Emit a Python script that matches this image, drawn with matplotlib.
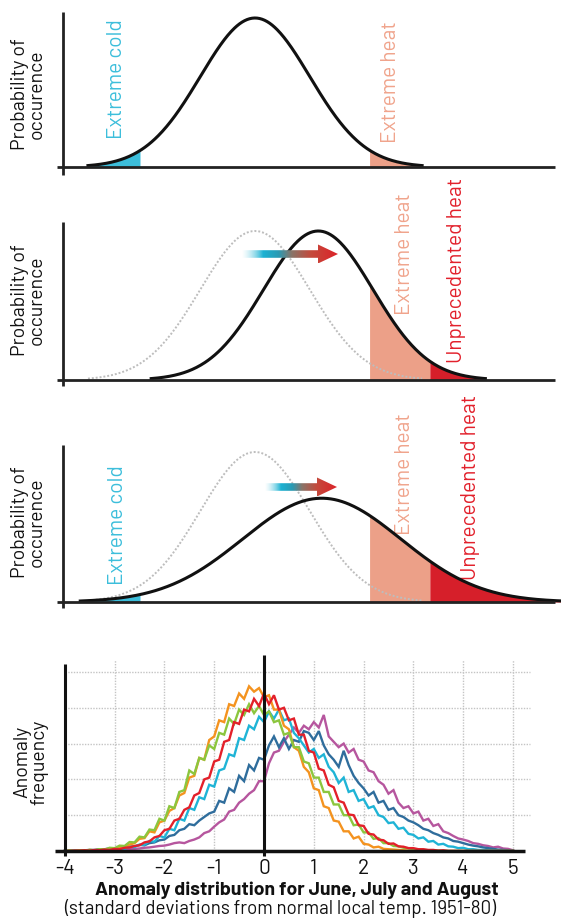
import numpy as np
import matplotlib
matplotlib.use("Agg")
import matplotlib.pyplot as plt
from matplotlib.patches import Polygon
from matplotlib.colors import LinearSegmentedColormap

plt.rcParams['font.family'] = ['Barlow', 'DejaVu Sans']

# ---------------- bottom panel data ----------------
x_start, x_step = -4.0, 0.1   # anomaly (std devs), one value per 0.1

orange = [0.00, 0.01, 0.00, 0.02, 0.01, 0.03, 0.02, 0.04, 0.03, 0.06,
          0.05, 0.10, 0.12, 0.18, 0.22, 0.34, 0.36, 0.55, 0.52, 0.80,
          0.85, 1.12, 1.20, 1.55, 1.62, 2.05, 2.10, 2.60, 2.55, 3.10,
          3.20, 3.65, 3.60, 4.10, 4.05, 4.40, 4.25, 4.60, 4.45, 4.55,
          4.30, 4.35, 3.95, 3.95, 3.50, 3.40, 2.90, 2.80, 2.35, 2.20,
          1.75, 1.70, 1.25, 1.20, 0.85, 0.82, 0.55, 0.55, 0.35, 0.40,
          0.20, 0.18, 0.10, 0.12, 0.06, 0.05, 0.04, 0.03, 0.02, 0.01,
          0.01, 0.00, 0.00, 0.00, 0.00, 0.00, 0.00, 0.00, 0.00, 0.00,
          0.00, 0.00, 0.00, 0.00, 0.00, 0.00, 0.00, 0.00, 0.00, 0.00,
          0.00]

red = [0.00, 0.00, 0.01, 0.01, 0.02, 0.01, 0.03, 0.02, 0.04, 0.03,
       0.06, 0.05, 0.09, 0.10, 0.14, 0.16, 0.24, 0.27, 0.38, 0.42,
       0.58, 0.62, 0.85, 0.90, 1.15, 1.22, 1.55, 1.62, 2.00, 2.05,
       2.50, 2.55, 3.05, 3.10, 3.60, 3.55, 3.95, 3.90, 4.25, 4.05,
       4.40, 4.10, 4.35, 3.95, 4.00, 3.65, 3.70, 3.25, 3.25, 2.80,
       2.75, 2.30, 2.25, 1.85, 1.78, 1.40, 1.35, 1.02, 1.00, 0.72,
       0.70, 0.48, 0.46, 0.32, 0.30, 0.20, 0.21, 0.13, 0.12, 0.08,
       0.08, 0.05, 0.05, 0.03, 0.03, 0.01, 0.02, 0.00, 0.00, 0.00,
       0.00, 0.00, 0.00, 0.00, 0.00, 0.00, 0.00, 0.00, 0.00, 0.00,
       0.00]

green = [0.00, 0.01, 0.00, 0.02, 0.01, 0.03, 0.02, 0.05, 0.04, 0.09,
         0.08, 0.15, 0.14, 0.25, 0.24, 0.40, 0.38, 0.60, 0.58, 0.90,
         0.85, 1.25, 1.20, 1.65, 1.70, 2.25, 2.15, 2.60, 2.55, 2.95,
         2.85, 3.30, 3.25, 3.70, 3.55, 3.95, 3.80, 4.10, 3.85, 4.05,
         3.80, 3.90, 3.60, 3.65, 3.25, 3.30, 2.90, 2.90, 2.50, 2.45,
         2.05, 2.05, 1.65, 1.65, 1.30, 1.30, 1.00, 1.00, 0.72, 0.74,
         0.52, 0.52, 0.34, 0.36, 0.22, 0.22, 0.14, 0.13, 0.09, 0.08,
         0.05, 0.04, 0.03, 0.02, 0.01, 0.01, 0.00, 0.00, 0.00, 0.00,
         0.00, 0.00, 0.00, 0.00, 0.00, 0.00, 0.00, 0.00, 0.00, 0.00,
         0.00]

cyan = [0.00, 0.01, 0.00, 0.02, 0.01, 0.02, 0.02, 0.04, 0.03, 0.05,
        0.04, 0.07, 0.06, 0.12, 0.11, 0.18, 0.17, 0.28, 0.26, 0.42,
        0.38, 0.62, 0.58, 0.90, 0.85, 1.20, 1.15, 1.50, 1.45, 1.85,
        1.80, 2.25, 2.30, 2.70, 2.65, 3.15, 3.10, 3.50, 3.40, 3.75,
        3.60, 3.90, 3.70, 3.95, 3.65, 3.70, 3.30, 3.15, 2.95, 2.75,
        2.85, 2.60, 2.70, 2.35, 2.20, 1.90, 2.05, 1.65, 1.70, 1.40,
        1.45, 1.20, 1.25, 1.00, 0.95, 0.78, 0.80, 0.62, 0.65, 0.48,
        0.45, 0.35, 0.38, 0.26, 0.28, 0.18, 0.20, 0.13, 0.12, 0.08,
        0.09, 0.05, 0.05, 0.03, 0.03, 0.02, 0.02, 0.01, 0.01, 0.00,
        0.00]

dark_blue = [0.00, 0.01, 0.01, 0.02, 0.02, 0.03, 0.03, 0.05, 0.05, 0.07,
             0.06, 0.12, 0.10, 0.12, 0.13, 0.17, 0.16, 0.22, 0.24, 0.30,
             0.32, 0.42, 0.45, 0.58, 0.62, 0.75, 0.72, 0.85, 0.95, 1.05,
             1.10, 1.40, 1.35, 1.75, 1.65, 2.10, 1.95, 2.40, 2.25, 2.60,
             2.55, 2.95, 3.20, 2.90, 3.15, 2.85, 3.10, 3.05, 3.35, 3.30,
             3.10, 3.35, 2.95, 2.70, 2.55, 2.35, 2.80, 2.40, 2.10, 1.90,
             1.75, 1.55, 1.65, 1.35, 1.40, 1.15, 1.20, 1.00, 0.95, 0.85,
             0.80, 0.72, 0.62, 0.58, 0.50, 0.45, 0.38, 0.35, 0.28, 0.26,
             0.22, 0.18, 0.15, 0.13, 0.10, 0.08, 0.06, 0.04, 0.03, 0.02,
             0.01]

magenta = [0.00, 0.00, 0.01, 0.01, 0.01, 0.02, 0.02, 0.02, 0.03, 0.03,
           0.04, 0.04, 0.05, 0.06, 0.06, 0.07, 0.09, 0.10, 0.12, 0.14,
           0.15, 0.18, 0.22, 0.24, 0.22, 0.28, 0.32, 0.38, 0.50, 0.55,
           0.68, 0.80, 0.88, 1.10, 1.15, 1.35, 1.45, 1.60, 1.70, 1.95,
           1.95, 2.45, 2.75, 2.80, 3.05, 3.25, 3.45, 3.30, 3.50, 3.40,
           3.60, 3.45, 3.80, 3.20, 3.05, 2.90, 3.00, 2.75, 2.85, 2.55,
           2.50, 2.25, 2.20, 1.95, 1.85, 1.60, 1.70, 1.35, 1.20, 1.25,
           1.05, 1.10, 0.85, 0.90, 0.70, 0.75, 0.55, 0.50, 0.42, 0.35,
           0.32, 0.28, 0.22, 0.20, 0.16, 0.14, 0.10, 0.12, 0.07, 0.06,
           0.02]

series = [("magenta", magenta, "#b6569e"),
          ("dark_blue", dark_blue, "#2f6d9c"),
          ("cyan", cyan, "#1fb4d6"),
          ("orange", orange, "#f4931f"),
          ("green", green, "#8cc63e"),
          ("red", red, "#e3202a")]

x_ticks = [-4, -3, -2, -1, 0, 1, 2, 3, 4, 5]
y_grid = [1, 2, 3, 4, 5]

# ---------------- conceptual distributions (top three panels) ----------------
base_mean, base_sigma = -0.18, 1.10
shift_mean = 1.09
wide_mean, wide_sigma = 1.16, 1.59
cold_thr, heat_thr, unprec_thr = -2.49, 2.12, 3.33

C_COLD = "#3cbedb"
C_HEAT = "#eca088"
C_UNPREC = "#d61f2a"
C_HEAT_TXT = "#f0a48c"
C_UNPREC_TXT = "#e2202b"

# ---------------- layout helpers ----------------
W, H = 561, 922
fig = plt.figure(figsize=(W / 100, H / 100), dpi=100)
PX0, PXU = 264.0, 49.8


def xr(px):
    return (px - PX0) / PXU


def make_ax(top_px, bottom_px, base_px, unit_px):
    ax = fig.add_axes([0, 1 - bottom_px / H, 1, (bottom_px - top_px) / H])
    ax.set_xlim(xr(0), xr(W))
    ax.set_ylim(-(bottom_px - base_px) / unit_px, (base_px - top_px) / unit_px)
    ax.axis('off')
    ax.patch.set_alpha(0)
    return ax


def gauss(x, m, s, peak):
    return peak * np.exp(-(x - m) ** 2 / (2 * s ** 2))


def curve(ax, m, s, peak, **kw):
    x = np.linspace(m - 3.05 * s, m + 3.05 * s, 400)
    ax.plot(x, gauss(x, m, s, peak), **kw)
    return x[0], x[-1]


def fill(ax, m, s, peak, a, b, color):
    x = np.linspace(a, b, 200)
    ax.fill_between(x, 0, gauss(x, m, s, peak), color=color, lw=0, zorder=1)


def frame(ax, base_px, unit_px, top_px, bot_px):
    ax.plot([xr(63), xr(63)], [-(bot_px - base_px) / unit_px, (base_px - top_px) / unit_px],
            color='#222222', lw=2.0, solid_capstyle='butt', zorder=5)
    ax.plot([xr(57), xr(555)], [0, 0], color='#222222', lw=2.0,
            solid_capstyle='butt', zorder=5)


grad_cmap = LinearSegmentedColormap.from_list(
    "arr", [(0.0, "#9fe0ee"), (0.22, "#1cb2d3"), (0.38, "#2a9ab3"),
            (0.52, "#8a7468"), (0.72, "#c44a3c"), (1.0, "#dc2329")])


def grad_arrow(ax, x0, x1, y, unit_px):
    sh = 3.8 / unit_px
    hh = 9.5 / unit_px
    hl = 20 / PXU
    pts = [(x0, y - sh), (x1 - hl, y - sh), (x1 - hl, y - hh), (x1, y),
           (x1 - hl, y + hh), (x1 - hl, y + sh), (x0, y + sh)]
    patch = Polygon(pts, closed=True, facecolor='none', edgecolor='none')
    ax.add_patch(patch)
    t = np.linspace(0, 1, 300)
    rgba = grad_cmap(t)
    rgba[:, 3] = np.clip(t / 0.22, 0, 1)
    img = np.tile(rgba[None, :, :], (4, 1, 1))
    xl, yl = ax.get_xlim(), ax.get_ylim()
    im = ax.imshow(img, extent=[x0, x1, y - hh, y + hh], aspect='auto',
                   origin='lower', zorder=6, interpolation='bilinear')
    im.set_clip_path(patch)
    ax.set_xlim(xl)
    ax.set_ylim(yl)


YLAB = dict(rotation=90, ha='center', va='center', fontsize=14,
            color='#111111', linespacing=0.92)
LAB = dict(rotation=90, ha='center', va='bottom', fontsize=15)
GRAY = dict(color='#bdbdbd', lw=1.4, ls=(0, (1, 1)), zorder=2)
BLACK = dict(color='#111111', lw=2.2, zorder=4)

# ---------------- panel 1 ----------------
ax1 = make_ax(0, 190, 167, 149)
a, b = curve(ax1, base_mean, base_sigma, 1.0, **BLACK)
fill(ax1, base_mean, base_sigma, 1.0, a, cold_thr, C_COLD)
fill(ax1, base_mean, base_sigma, 1.0, heat_thr, b, C_HEAT)
frame(ax1, 167, 149, 12, 175)
ax1.text(xr(28), (167 - 94) / 149, "Probability of\noccurence", **YLAB)
ax1.text(xr(117), (167 - 139) / 149, "Extreme cold", color=C_COLD, **LAB)
ax1.text(xr(391), (167 - 143) / 149, "Extreme heat", color=C_HEAT_TXT, **LAB)

# ---------------- panel 2 ----------------
ax2 = make_ax(195, 400, 380, 149)
curve(ax2, base_mean, base_sigma, 1.0, **GRAY)
a, b = curve(ax2, shift_mean, base_sigma, 1.0, **BLACK)
fill(ax2, shift_mean, base_sigma, 1.0, heat_thr, unprec_thr, C_HEAT)
fill(ax2, shift_mean, base_sigma, 1.0, unprec_thr, b, C_UNPREC)
frame(ax2, 380, 149, 222, 386)
ax2.text(xr(28), (380 - 300) / 149, "Probability of\noccurence", **YLAB)
ax2.text(xr(405), (380 - 315) / 149, "Extreme heat", color=C_HEAT_TXT, **LAB)
ax2.text(xr(457), (380 - 363) / 149, "Unprecedented heat", color=C_UNPREC_TXT, **LAB)
grad_arrow(ax2, xr(242), xr(338), (380 - 254) / 149, 149)

# ---------------- panel 3 ----------------
wide_peak = base_sigma / wide_sigma
ax3 = make_ax(405, 625, 602, 150)
curve(ax3, base_mean, base_sigma, 1.0, **GRAY)
a, b = curve(ax3, wide_mean, wide_sigma, wide_peak, **BLACK)
fill(ax3, wide_mean, wide_sigma, wide_peak, a, cold_thr, C_COLD)
fill(ax3, wide_mean, wide_sigma, wide_peak, heat_thr, unprec_thr, C_HEAT)
fill(ax3, wide_mean, wide_sigma, wide_peak, unprec_thr, b, C_UNPREC)
frame(ax3, 602, 150, 445, 608)
ax3.text(xr(28), (602 - 522) / 150, "Probability of\noccurence", **YLAB)
ax3.text(xr(118), (602 - 585) / 150, "Extreme cold", color=C_COLD, **LAB)
ax3.text(xr(405), (602 - 535) / 150, "Extreme heat", color=C_HEAT_TXT, **LAB)
ax3.text(xr(471), (602 - 580) / 150, "Unprecedented heat", color=C_UNPREC_TXT, **LAB)
grad_arrow(ax3, xr(265), xr(337), (602 - 487) / 150, 150)

# ---------------- bottom panel ----------------
BASE, UNIT = 851, 35.8
axb = fig.add_axes([0, 1 - 858 / H, 1, (858 - 650) / H])
axb.set_xlim(xr(0), xr(W))
axb.set_ylim(-(858 - BASE) / UNIT, (BASE - 650) / UNIT)
for s in axb.spines.values():
    s.set_visible(False)
axb.patch.set_alpha(0)
axb.set_yticks([])
axb.set_xticks(x_ticks)
axb.set_xticklabels([str(v) for v in x_ticks], fontsize=15, color='#111111')
axb.tick_params(axis='x', length=0, pad=1)

grid_top = (BASE - 660) / UNIT
for gx in x_ticks[1:]:
    if gx != 0:
        axb.plot([gx, gx], [0, grid_top], color='#c4c4c4', lw=1.0,
                 ls=(0, (1, 1)), zorder=1)
for gy in y_grid:
    axb.plot([-4, xr(530)], [gy, gy], color='#c4c4c4', lw=1.0,
             ls=(0, (1, 1)), zorder=1)

n = len(orange)
xs = x_start + x_step * np.arange(n)
for name, vals, col in series:
    axb.plot(xs[:len(vals)], vals, color=col, lw=1.7, zorder=3,
             solid_joinstyle='miter')

axb.plot([-4, -4], [-(856 - BASE) / UNIT, (BASE - 664) / UNIT], color='#111111',
         lw=2.2, solid_capstyle='butt', zorder=5)
axb.plot([0, 0], [-(856 - BASE) / UNIT, (BASE - 655) / UNIT], color='#111111',
         lw=2.2, solid_capstyle='butt', zorder=5)
axb.plot([xr(55), xr(525)], [0, 0], color='#111111', lw=2.5,
         solid_capstyle='butt', zorder=5)
axb.text(xr(31), (BASE - 762) / UNIT, "Anomaly\nfrequency", **YLAB)

fig.text(297 / W, 1 - 890 / H, "Anomaly distribution for June, July and August",
         ha='center', va='center', fontsize=14, fontweight='bold', color='#111111')
fig.text(280 / W, 1 - 908 / H, "(standard deviations from normal local temp. 1951-80)",
         ha='center', va='center', fontsize=13.5, color='#111111')

fig.savefig("out.png", dpi=100, facecolor='white')
